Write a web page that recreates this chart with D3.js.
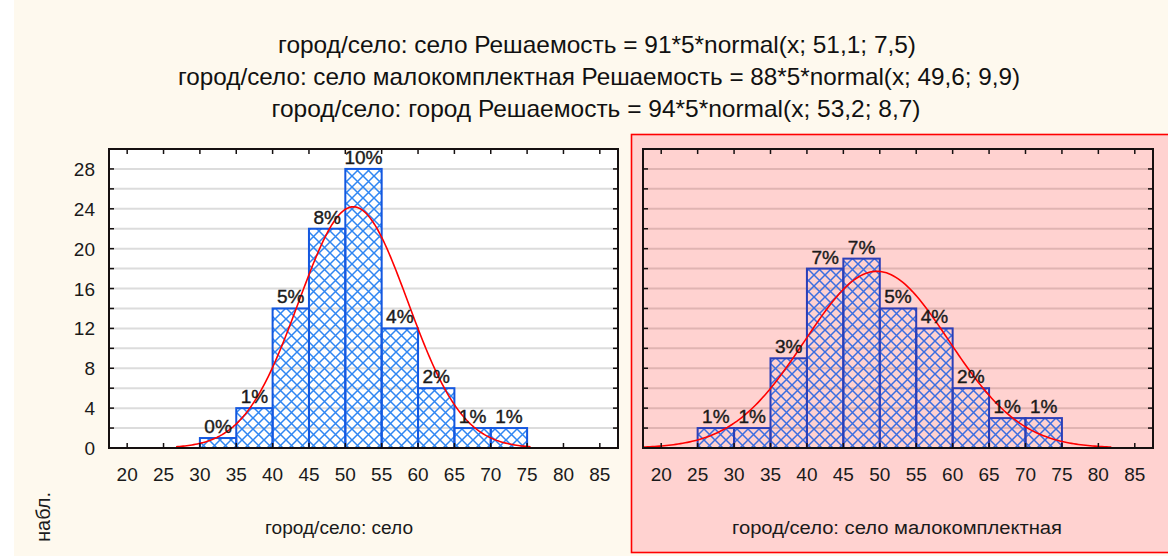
<!DOCTYPE html>
<html><head><meta charset="utf-8">
<script src="https://cdn.jsdelivr.net/npm/d3@7"></script>
<style>body{margin:0;background:#FEF9EE;}svg{display:block;}</style>
</head><body>
<svg id="c" width="1168" height="556"></svg>
<script>
// ---- data ----
const titles = [
  "город/село: село Решаемость = 91*5*normal(x; 51,1; 7,5)",
  "город/село: село малокомплектная Решаемость = 88*5*normal(x; 49,6; 9,9)",
  "город/село: город Решаемость = 94*5*normal(x; 53,2; 8,7)"
];
const binStarts = [20,25,30,35,40,45,50,55,60,65,70,75,80];
const xTicks = [20,25,30,35,40,45,50,55,60,65,70,75,80,85];
const yTicks = [0,4,8,12,16,20,24,28];
const yGrid = [2,4,6,8,10,12,14,16,18,20,22,24,26,28];
const seloCounts   = [0,0,1,4,14,22,28,12,6,2,2,0,0];
const seloPct      = ["","","0%","1%","5%","8%","10%","4%","2%","1%","1%","",""];
const maloCounts   = [0,2,2,9,18,19,14,12,6,3,3,0,0];
const maloPct      = ["","1%","1%","3%","7%","7%","5%","4%","2%","1%","1%","",""];
const seloFit = {n:91, w:5, mean:51.1, sd:7.5};
const maloFit = {n:88, w:5, mean:49.6, sd:9.9};
const xLabels = ["город/село: село","город/село: село малокомплектная"];
const yLabel = "набл.";

const svg = d3.select("#c");
const FONT = "'Liberation Sans Narrow','Liberation Sans',Arial,sans-serif";
svg.append("rect").attr("x",0).attr("y",0).attr("width",14).attr("height",556).attr("fill","#fff");

// patterns
const defs = svg.append("defs");
function hatch(id,color){
  const p = defs.append("pattern").attr("id",id).attr("patternUnits","userSpaceOnUse")
    .attr("width",11).attr("height",11);
  p.append("path").attr("d","M0,0L11,11M11,0L0,11").attr("stroke",color).attr("stroke-width",1.5).attr("fill","none");
}
hatch("hL","#2F86F2");
hatch("hR","#3B6EE0");

// titles
const tW = [638,842,649], tX=[597,599,596], tY=[53,85,117];
titles.forEach((t,i)=>{
  svg.append("text").attr("x",tX[i]).attr("y",tY[i]).attr("text-anchor","middle")
    .attr("font-family",FONT).attr("font-size",24).attr("fill","#111")
    .attr("textLength",tW[i]).attr("lengthAdjust","spacingAndGlyphs").text(t);
});

// right panel background
svg.append("rect").attr("x",631.5).attr("y",134.5).attr("width",560).attr("height",418)
  .attr("fill","#FFD2D0").attr("stroke","#FF0000").attr("stroke-width",1.6);

const y = d3.scaleLinear().domain([0,30]).range([448,149]);

function panel(x0,x1,counts,pct,fit,pat,outline,gridCol,showY,label,labelX,labelW,plotBg){
  const x = d3.scaleLinear().domain([17.5,87.5]).range([x0,x1]);
  const g = svg.append("g");
  if(plotBg) g.append("rect").attr("x",x0).attr("y",y(30)).attr("width",x1-x0).attr("height",y(0)-y(30)).attr("fill",plotBg);
  // grid
  g.selectAll(".gr").data(yGrid).join("line")
    .attr("x1",x0).attr("x2",x1).attr("y1",d=>y(d)).attr("y2",d=>y(d))
    .attr("stroke",gridCol).attr("stroke-width",2);
  // bars
  const bars = binStarts.map((b,i)=>({b,c:counts[i],p:pct[i]})).filter(d=>d.c>0);
  g.selectAll(".bf").data(bars).join("rect")
    .attr("x",d=>x(d.b)).attr("width",d=>x(d.b+5)-x(d.b))
    .attr("y",d=>y(d.c)).attr("height",d=>y(0)-y(d.c))
    .attr("fill","url(#"+pat+")").attr("stroke",outline).attr("stroke-width",2);
  // curve
  const lo = Math.max(17.5, fit.mean-3.25*fit.sd), hi = Math.min(87.5, fit.mean+3.25*fit.sd);
  const pts = d3.range(0,201).map(k=>{
    const xv = lo+(hi-lo)*k/200;
    const z=(xv-fit.mean)/fit.sd;
    return [xv, fit.n*fit.w*Math.exp(-0.5*z*z)/(fit.sd*Math.sqrt(2*Math.PI))];
  });
  g.append("path").datum(pts).attr("d",d3.line().x(d=>x(d[0])).y(d=>y(d[1])))
    .attr("fill","none").attr("stroke","#FF0000").attr("stroke-width",1.6);
  // pct labels
  g.selectAll(".pl").data(bars).join("text")
    .attr("x",d=>x(d.b+2.5)).attr("y",d=>y(d.c)-5).attr("text-anchor","middle")
    .attr("font-family","'Liberation Sans',Arial,sans-serif").attr("font-size",19).attr("fill","#1a1a1a")
    .attr("stroke","#1a1a1a").attr("stroke-width",0.4).text(d=>d.p);
  // frame
  g.append("rect").attr("x",x0).attr("y",y(30)).attr("width",x1-x0).attr("height",y(0)-y(30))
    .attr("fill","none").attr("stroke","#151010").attr("stroke-width",2);
  // ticks
  g.selectAll(".tb").data(xTicks).join("line").attr("x1",d=>x(d)).attr("x2",d=>x(d))
    .attr("y1",y(0)).attr("y2",y(0)-5).attr("stroke","#151010").attr("stroke-width",1.5);
  g.selectAll(".tt").data(xTicks).join("line").attr("x1",d=>x(d)).attr("x2",d=>x(d))
    .attr("y1",y(30)).attr("y2",y(30)+5).attr("stroke","#151010").attr("stroke-width",1.5);
  g.selectAll(".tl").data(yGrid).join("line").attr("x1",x0).attr("x2",x0+5)
    .attr("y1",d=>y(d)).attr("y2",d=>y(d)).attr("stroke","#151010").attr("stroke-width",1.5);
  g.selectAll(".tr").data(yGrid).join("line").attr("x1",x1).attr("x2",x1-5)
    .attr("y1",d=>y(d)).attr("y2",d=>y(d)).attr("stroke","#151010").attr("stroke-width",1.5);
  // x tick labels
  g.selectAll(".xl").data(xTicks).join("text").attr("x",d=>x(d)).attr("y",481)
    .attr("text-anchor","middle").attr("font-family",FONT).attr("font-size",19).attr("fill","#1a1a1a").text(d=>d);
  if(showY){
    g.selectAll(".yl").data(yTicks).join("text").attr("x",x0-14).attr("y",d=>y(d)+7)
      .attr("text-anchor","end").attr("font-family",FONT).attr("font-size",19).attr("fill","#1a1a1a").text(d=>d);
  }
  g.append("text").attr("x",labelX).attr("y",534).attr("text-anchor","middle")
    .attr("font-family",FONT).attr("font-size",18).attr("fill","#1a1a1a")
    .attr("textLength",labelW).attr("lengthAdjust","spacingAndGlyphs").text(label);
}
panel(109,618,seloCounts,seloPct,seloFit,"hL","#1458E0","#DCDCDC",true,xLabels[0],339,148,"#FFFFFF");
panel(643,1153,maloCounts,maloPct,maloFit,"hR","#2B3FB8","#E0B4B2",false,xLabels[1],897,330,null);

svg.append("text").attr("transform","translate(50,492) rotate(-90)").attr("text-anchor","end")
  .attr("font-family",FONT).attr("font-size",20).attr("fill","#1a1a1a").text(yLabel);
</script>
</body></html>
